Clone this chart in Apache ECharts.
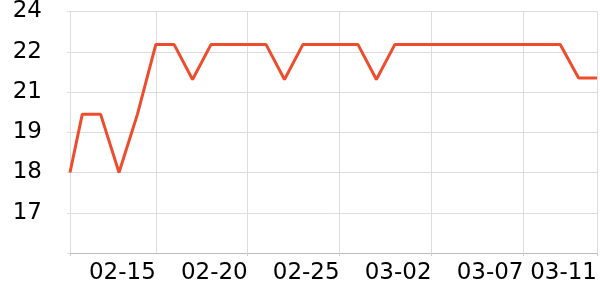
<!DOCTYPE html>
<html>
<head>
<meta charset="utf-8">
<script src="https://cdn.jsdelivr.net/npm/echarts@6/dist/echarts.min.js"></script>
<style>html,body{margin:0;padding:0;background:#fff}#c{width:600px;height:300px}</style>
</head>
<body>
<div id="c"></div>
<script>
// x: timestamps of the readings
var dates = [
  '2023-02-10 08:00', '2023-02-11', '2023-02-12', '2023-02-13', '2023-02-14', '2023-02-15',
  '2023-02-16', '2023-02-17', '2023-02-18', '2023-02-19', '2023-02-20', '2023-02-21',
  '2023-02-22', '2023-02-23', '2023-02-24', '2023-02-25', '2023-02-26', '2023-02-27',
  '2023-02-28', '2023-03-01', '2023-03-02', '2023-03-03', '2023-03-04', '2023-03-05',
  '2023-03-06', '2023-03-07', '2023-03-08', '2023-03-09', '2023-03-10', '2023-03-11'
];
var values = [
  18, 20, 20, 18, 20, 22.4,
  22.4, 21.2, 22.4, 22.4, 22.4, 22.4,
  21.2, 22.4, 22.4, 22.4, 22.4, 21.2,
  22.4, 22.4, 22.4, 22.4, 22.4, 22.4,
  22.4, 22.4, 22.4, 22.4, 21.25, 21.25
];
// x tick marks and x tick labels
var xTickDates = ['2023-02-10 08:00', '2023-02-15', '2023-02-20', '2023-02-25', '2023-03-02', '2023-03-07', '2023-03-11'];
var xLabelDates = ['2023-02-15', '2023-02-20', '2023-02-25', '2023-03-02', '2023-03-07', '2023-03-11'];
// y tick labels, bottom to top
var yTickLabels = ['', '17', '18', '19', '21', '22', '24'];
var yStep = 18 / 13;
var yMin = 11 * yStep;
var yMax = 17 * yStep;

function ts(s) { return new Date(s.replace(' ', 'T')).getTime(); }

var chart = echarts.init(document.getElementById('c'), null, {renderer: 'canvas'});
chart.setOption({
  animation: false,
  backgroundColor: '#fff',
  textStyle: {fontFamily: 'DejaVu Sans'},
  grid: {left: 70, right: 0, top: 10, bottom: 47, containLabel: false},
  xAxis: {
    type: 'time',
    min: 'dataMin',
    max: 'dataMax',
    axisLine: {show: true, lineStyle: {color: '#bbbbbb', width: 1}},
    axisTick: {show: true, length: 3, lineStyle: {color: '#cccccc'}, customValues: xTickDates.map(ts)},
    splitLine: {show: true, lineStyle: {color: '#dddddd', width: 1}},
    axisLabel: {
      customValues: xLabelDates.map(ts),
      formatter: '{MM}-{dd}',
      align: 'right',
      hideOverlap: false,
      color: '#000',
      fontSize: 23,
      fontFamily: 'DejaVu Sans',
      margin: 9
    }
  },
  yAxis: {
    type: 'value',
    min: yMin,
    max: yMax,
    interval: yStep,
    axisLine: {show: false},
    axisTick: {show: true, length: 3, lineStyle: {color: '#dddddd'}},
    splitLine: {show: true, lineStyle: {color: '#dddddd', width: 1}},
    axisLabel: {
      formatter: function (v) { return yTickLabels[Math.round((v - yMin) / yStep)] || ''; },
      color: '#000',
      fontSize: 23,
      fontFamily: 'DejaVu Sans',
      margin: 28
    }
  },
  series: [{
    type: 'line',
    data: dates.map(function (d, i) { return [ts(d), values[i]]; }),
    showSymbol: false,
    symbol: 'none',
    lineStyle: {color: '#EE4D2D', width: 3},
    itemStyle: {color: '#EE4D2D'}
  }]
});
</script>
</body>
</html>
